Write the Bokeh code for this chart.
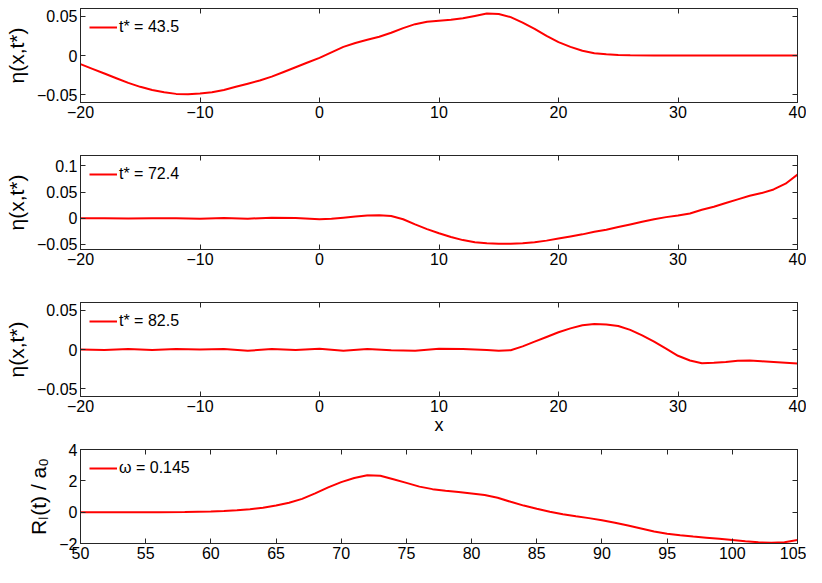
from bokeh.plotting import figure
from bokeh.layouts import column
from bokeh.models import LinearAxis, FixedTicker, CustomJSTickFormatter, Range1d
from bokeh.embed import file_html
from bokeh.resources import INLINE

# ---------------- data ----------------
x1 = [-20, -19, -18, -17, -16, -15, -14, -13, -12, -11, -10, -9, -8, -7, -6, -5, -4, -3, -2, -1,
      0, 1, 2, 3, 4, 5, 6, 7, 8, 9, 10, 11, 12, 13, 14, 15, 16, 17, 18, 19, 20, 21, 22, 23, 24,
      25, 26, 28, 30, 35, 40]
eta1 = [-0.011, -0.017, -0.023, -0.029, -0.035, -0.040, -0.044, -0.047, -0.049, -0.0495, -0.0485,
        -0.047, -0.044, -0.040, -0.036, -0.032, -0.027, -0.021, -0.015, -0.009,
        -0.003, 0.004, 0.011, 0.016, 0.020, 0.024, 0.029, 0.035, 0.040, 0.043, 0.0445, 0.0455, 0.0475,
        0.0505, 0.0535, 0.053, 0.049, 0.042, 0.034, 0.025, 0.017, 0.011, 0.006, 0.003, 0.0015,
        0.0007, 0.0003, 0.0, 0.0, 0.0, 0.0]

x2 = [-20, -18, -16, -14, -12, -10, -8, -6, -4, -2, 0, 1, 2, 3, 4, 5, 6, 7, 8, 9, 10, 11, 12, 13,
      14, 15, 16, 17, 18, 19, 20, 21, 22, 23, 24, 25, 26, 27, 28, 29, 30, 31, 32, 33, 34, 35, 36,
      37, 38, 39, 40]
eta2 = [0.000, 0.000, -0.0005, 0.000, 0.000, -0.001, 0.0005, -0.001, 0.001, 0.0005, -0.002, -0.001,
        0.001, 0.003, 0.005, 0.0055, 0.004, -0.002, -0.012, -0.021, -0.029, -0.036, -0.042, -0.046,
        -0.048, -0.049, -0.049, -0.048, -0.046, -0.043, -0.039, -0.035, -0.031, -0.026, -0.022,
        -0.017, -0.012, -0.007, -0.002, 0.002, 0.005, 0.009, 0.016, 0.022, 0.029, 0.036, 0.043,
        0.048, 0.055, 0.066, 0.0835]

x3 = [-20, -18, -16, -14, -12, -10, -8, -6, -4, -2, 0, 2, 4, 6, 8, 10, 12, 14, 15, 16, 17, 18, 19,
      20, 21, 22, 23, 24, 25, 26, 27, 28, 29, 30, 31, 32, 33, 34, 35, 36, 37, 38, 39, 40]
eta3 = [0.000, -0.0005, 0.0005, -0.0005, 0.0005, 0.000, 0.0005, -0.0015, 0.0005, -0.0005, 0.001,
        -0.0015, 0.0005, -0.001, -0.0015, 0.001, 0.0005, -0.0005, -0.0015, -0.001, 0.004, 0.010,
        0.016, 0.022, 0.027, 0.031, 0.0325, 0.032, 0.030, 0.025, 0.018, 0.010, 0.001, -0.008,
        -0.014, -0.0175, -0.017, -0.016, -0.0145, -0.014, -0.015, -0.016, -0.017, -0.018]

t4 = [50, 52, 54, 56, 58, 60, 61, 62, 63, 64, 65, 66, 67, 68, 69, 70, 71, 72, 73, 74, 75, 76, 77,
      78, 79, 80, 81, 82, 83, 84, 85, 86, 87, 88, 89, 90, 91, 92, 93, 94, 95, 96, 97, 98, 99, 100,
      101, 102, 103, 104, 105]
RL4 = [0, 0, 0, 0, 0.01, 0.04, 0.07, 0.12, 0.19, 0.28, 0.42, 0.60, 0.85, 1.20, 1.58, 1.92, 2.18,
       2.36, 2.33, 2.10, 1.87, 1.63, 1.47, 1.36, 1.28, 1.19, 1.09, 0.92, 0.66, 0.42, 0.22, 0.03,
       -0.13, -0.26, -0.38, -0.52, -0.67, -0.85, -1.04, -1.23, -1.38, -1.48, -1.56, -1.63, -1.70,
       -1.77, -1.85, -1.92, -1.96, -1.92, -1.78]

legend_labels = ["t* = 43.5", "t* = 72.4", "t* = 82.5", "\u03c9 = 0.145"]
ylabels = ["\u03b7(x,t*)", "\u03b7(x,t*)", "\u03b7(x,t*)", "R\u2097(t) / a\u2080"]
xticks_eta = [-20, -10, 0, 10, 20, 30, 40]
xticks_t = [50, 55, 60, 65, 70, 75, 80, 85, 90, 95, 100, 105]
yticks = [[-0.05, 0, 0.05], [-0.05, 0, 0.05, 0.1], [-0.05, 0, 0.05], [-2, 0, 2, 4]]
yranges = [(-0.06, 0.06), (-0.06, 0.12), (-0.06, 0.06), (-2, 4)]

FONT = "Liberation Sans"
RED = "#ff0000"
AXC = "#262626"

fmt = CustomJSTickFormatter(code="""
    const a = Math.abs(tick);
    return (tick < 0 ? "\\u2212" : "") + a.toString();
""")
blank = CustomJSTickFormatter(code="return '';")


def make_panel(xs, ys, xr, yr, xt, yt, label, ylabel, xlabel, last=False):
    p = figure(width=806, height=(126 if last else 147), output_backend="svg",
               toolbar_location=None,
               x_range=Range1d(*xr), y_range=Range1d(*yr),
               min_border_left=80, min_border_right=9, min_border_top=8,
               min_border_bottom=(24 if last else 45))
    p.xgrid.visible = False
    p.ygrid.visible = False
    p.outline_line_color = AXC
    p.outline_line_width = 1
    p.line(xs, ys, line_color=RED, line_width=2, legend_label=label)

    for ax in p.xaxis:
        ax.ticker = FixedTicker(ticks=xt)
        ax.formatter = fmt
        ax.major_label_standoff = 3
    for ax in p.yaxis:
        ax.ticker = FixedTicker(ticks=yt)
        ax.formatter = fmt
        ax.major_label_standoff = 3
    for ax in list(p.xaxis) + list(p.yaxis):
        ax.major_tick_in = 5
        ax.major_tick_out = 0
        ax.minor_tick_line_color = None
        ax.major_tick_line_color = AXC
        ax.axis_line_color = AXC
        ax.major_label_text_font = FONT
        ax.major_label_text_font_size = "16px"
        ax.major_label_text_color = "black"
        ax.axis_label_text_font = FONT
        ax.axis_label_text_font_style = "normal"
        ax.axis_label_text_color = "black"
    p.yaxis.axis_label = ylabel
    p.yaxis.axis_label_text_font_size = "21px"
    p.yaxis.axis_label_standoff = 6
    if xlabel:
        p.xaxis.axis_label = xlabel
        p.xaxis.axis_label_text_font_size = "18px"
        p.xaxis.axis_label_standoff = 0

    # mirrored tick marks on top and right (no labels)
    top = LinearAxis(ticker=FixedTicker(ticks=xt), formatter=blank, major_tick_in=5,
                     major_tick_out=0, minor_tick_line_color=None,
                     major_label_text_font_size="1px", major_label_standoff=0,
                     axis_line_color=AXC, major_tick_line_color=AXC)
    right = LinearAxis(ticker=FixedTicker(ticks=yt), formatter=blank, major_tick_in=5,
                       major_tick_out=0, minor_tick_line_color=None,
                       major_label_text_font_size="1px", major_label_standoff=0,
                       axis_line_color=AXC, major_tick_line_color=AXC)
    p.add_layout(top, "above")
    p.add_layout(right, "right")

    lg = p.legend[0]
    lg.location = "top_left"
    lg.border_line_alpha = 0
    lg.background_fill_alpha = 0
    lg.margin = 0
    lg.padding = 9
    lg.glyph_width = 28
    lg.label_standoff = 2
    lg.label_text_font = FONT
    lg.label_text_font_size = "16px"
    lg.label_text_color = "black"
    return p


p1 = make_panel(x1, eta1, (-20, 40), yranges[0], xticks_eta, yticks[0], legend_labels[0], ylabels[0], None)
p2 = make_panel(x2, eta2, (-20, 40), yranges[1], xticks_eta, yticks[1], legend_labels[1], ylabels[1], None)
p3 = make_panel(x3, eta3, (-20, 40), yranges[2], xticks_eta, yticks[2], legend_labels[2], ylabels[2], "x")
p4 = make_panel(t4, RL4, (50, 105), yranges[3], xticks_t, yticks[3], legend_labels[3], ylabels[3], None, last=True)

layout = column(p1, p2, p3, p4, spacing=0)
open("out.html", "w").write(file_html(layout, INLINE))
